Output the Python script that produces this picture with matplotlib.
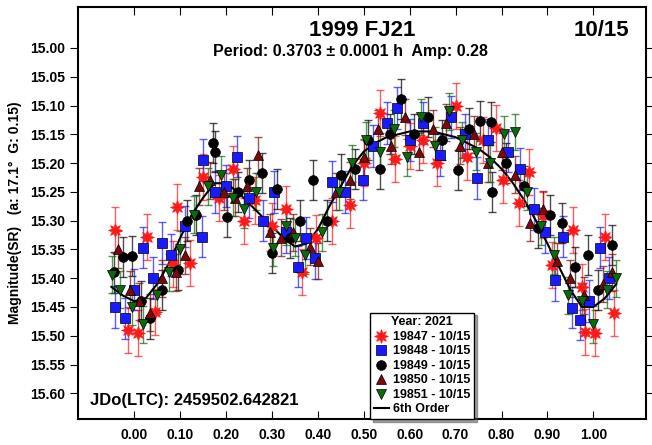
import numpy as np
import matplotlib.pyplot as plt

plt.rcParams['font.family'] = ['Liberation Sans', 'DejaVu Sans']
plt.rcParams['font.weight'] = 'bold'

# lightcurve data
ph_19847 = [-0.041, -0.013, 0.009, 0.028, 0.046, 0.085, 0.094, 0.122, 0.150, 0.185,
            0.215, 0.240, 0.262, 0.300, 0.330, 0.366, 0.395, 0.430, 0.470, 0.500,
            0.536, 0.569, 0.600, 0.630, 0.660, 0.700, 0.725, 0.760, 0.787, 0.804,
            0.837, 0.860, 0.890, 0.910, 0.956, 0.976, 0.982, 1.004, 1.026, 1.044]
mag_19847 = [15.316, 15.490, 15.495, 15.328, 15.458, 15.375, 15.276, 15.373, 15.225, 15.260,
             15.210, 15.300, 15.265, 15.310, 15.280, 15.389, 15.330, 15.300, 15.273, 15.200,
             15.113, 15.193, 15.170, 15.160, 15.200, 15.100, 15.190, 15.160, 15.139, 15.229,
             15.269, 15.215, 15.290, 15.377, 15.316, 15.415, 15.493, 15.495, 15.328, 15.460]

ph_19848 = [-0.041, -0.020, 0.000, 0.020, 0.040, 0.061, 0.080, 0.110, 0.148, 0.150,
            0.175, 0.200, 0.224, 0.250, 0.280, 0.305, 0.330, 0.357, 0.375, 0.394,
            0.431, 0.460, 0.499, 0.520, 0.550, 0.573, 0.600, 0.630, 0.667, 0.690,
            0.720, 0.747, 0.770, 0.815, 0.840, 0.870, 0.895, 0.917, 0.934, 0.954,
            0.972, 0.990, 1.015, 1.035]
mag_19848 = [15.450, 15.470, 15.420, 15.347, 15.400, 15.339, 15.360, 15.310, 15.328, 15.195,
             15.250, 15.240, 15.189, 15.260, 15.300, 15.250, 15.320, 15.380, 15.330, 15.365,
             15.232, 15.250, 15.229, 15.170, 15.130, 15.104, 15.160, 15.130, 15.186, 15.120,
             15.150, 15.226, 15.160, 15.180, 15.210, 15.280, 15.320, 15.403, 15.328, 15.451,
             15.472, 15.440, 15.347, 15.400]

ph_19849 = [-0.045, -0.024, -0.004, 0.015, 0.035, 0.060, 0.096, 0.115, 0.135, 0.172,
            0.175, 0.203, 0.225, 0.250, 0.279, 0.300, 0.312, 0.340, 0.360, 0.390,
            0.420, 0.450, 0.480, 0.510, 0.536, 0.558, 0.580, 0.610, 0.640, 0.670,
            0.706, 0.730, 0.754, 0.776, 0.780, 0.810, 0.850, 0.880, 0.905, 0.932,
            0.960, 0.989, 1.010, 1.041]
mag_19849 = [15.390, 15.363, 15.361, 15.440, 15.470, 15.420, 15.385, 15.300, 15.290, 15.165,
             15.180, 15.293, 15.250, 15.230, 15.217, 15.356, 15.245, 15.330, 15.300, 15.229,
             15.300, 15.220, 15.210, 15.160, 15.210, 15.150, 15.089, 15.150, 15.120, 15.160,
             15.212, 15.140, 15.127, 15.128, 15.250, 15.200, 15.240, 15.313, 15.290, 15.304,
             15.380, 15.360, 15.420, 15.342]

ph_19850 = [-0.035, -0.010, 0.010, 0.035, 0.060, 0.090, 0.110, 0.140, 0.165, 0.195,
            0.220, 0.245, 0.270, 0.295, 0.320, 0.345, 0.383, 0.400, 0.440, 0.470,
            0.500, 0.530, 0.560, 0.590, 0.620, 0.650, 0.680, 0.710, 0.740, 0.770,
            0.800, 0.830, 0.863, 0.890, 0.920, 0.950, 0.980, 1.020, 1.040]
mag_19850 = [15.350, 15.420, 15.440, 15.460, 15.400, 15.390, 15.360, 15.240, 15.230, 15.250,
             15.260, 15.240, 15.186, 15.320, 15.330, 15.320, 15.345, 15.370, 15.250, 15.230,
             15.190, 15.140, 15.170, 15.120, 15.180, 15.140, 15.130, 15.170, 15.150, 15.200,
             15.180, 15.220, 15.304, 15.280, 15.370, 15.400, 15.430, 15.410, 15.390]

ph_19851 = [-0.048, -0.030, -0.005, 0.020, 0.050, 0.075, 0.100, 0.130, 0.160, 0.190,
            0.215, 0.240, 0.265, 0.303, 0.330, 0.350, 0.372, 0.410, 0.445, 0.475,
            0.505, 0.535, 0.565, 0.595, 0.625, 0.655, 0.685, 0.715, 0.745, 0.775,
            0.805, 0.830, 0.855, 0.885, 0.915, 0.945, 0.975, 1.000, 1.030, 1.050]
mag_19851 = [15.394, 15.420, 15.450, 15.480, 15.430, 15.390, 15.350, 15.290, 15.240, 15.220,
             15.260, 15.280, 15.250, 15.347, 15.310, 15.330, 15.360, 15.320, 15.250, 15.200,
             15.160, 15.180, 15.140, 15.190, 15.120, 15.170, 15.110, 15.160, 15.180, 15.200,
             15.150, 15.146, 15.250, 15.310, 15.360, 15.430, 15.440, 15.480, 15.420, 15.400]

err = [0.040, 0.036, 0.035, 0.032, 0.032]

# 6th order fit
fit_ph = [-0.05, -0.025, 0.0, 0.025, 0.05, 0.075, 0.1, 0.125, 0.15, 0.175, 0.2, 0.225,
          0.25, 0.275, 0.3, 0.325, 0.35, 0.375, 0.4, 0.425, 0.45, 0.475, 0.5, 0.525,
          0.55, 0.575, 0.6, 0.625, 0.65, 0.675, 0.7, 0.725, 0.75, 0.775, 0.8, 0.825,
          0.85, 0.875, 0.9, 0.925, 0.95, 0.975, 1.0, 1.025, 1.05]
fit_mag = [15.415, 15.43, 15.44, 15.435, 15.41, 15.375, 15.33, 15.29, 15.26, 15.235, 15.235, 15.25,
           15.27, 15.29, 15.31, 15.33, 15.345, 15.34, 15.315, 15.275, 15.24, 15.205, 15.18, 15.165,
           15.155, 15.15, 15.145, 15.145, 15.145, 15.15, 15.155, 15.165, 15.175, 15.19, 15.21, 15.235,
           15.265, 15.30, 15.34, 15.38, 15.42, 15.45, 15.45, 15.435, 15.41]

labels = ['19847 - 10/15', '19848 - 10/15', '19849 - 10/15', '19850 - 10/15', '19851 - 10/15']
colors = ['#ff1a1a', '#1a1aff', '#000000', '#7a0a0a', '#0b6b0b']
markers = [(8, 1, 0), 's', 'o', '^', 'v']
msizes = [10, 7, 7, 7, 7]
series = [(ph_19847, mag_19847), (ph_19848, mag_19848), (ph_19849, mag_19849),
          (ph_19850, mag_19850), (ph_19851, mag_19851)]

fig = plt.figure(figsize=(6.52, 4.45), dpi=100)
ax = fig.add_axes([0.120, 0.058, 0.871, 0.926])

handles = []
for i in range(5):
    x, y = series[i]
    ax.errorbar(x, y, yerr=err[i], fmt='none', ecolor=colors[i], elinewidth=1,
                capsize=3, capthick=1, alpha=0.7, zorder=2)
    h, = ax.plot(x, y, linestyle='none', marker=markers[i], ms=msizes[i],
                 mfc=colors[i], mec='#000000' if i in (1, 3, 4) else colors[i],
                 mew=0.5, zorder=3, label=labels[i])
    handles.append(h)

fl, = ax.plot(fit_ph, fit_mag, color='black', lw=1.5, zorder=2.5, label='6th Order')
handles.append(fl)

ax.set_xlim(-0.122, 1.115)
ax.set_ylim(15.645, 14.929)
ax.set_xticks(np.arange(0, 1.01, 0.1))
ax.set_xticklabels(['%.2f' % v for v in np.arange(0, 1.01, 0.1)])
ax.set_yticks(np.arange(15.0, 15.601, 0.05))
ax.set_yticklabels(['%.2f' % v for v in np.arange(15.0, 15.601, 0.05)])
ax.tick_params(axis='x', which='both', direction='in', top=True, length=6, labelsize=10, pad=6)
ax.tick_params(axis='y', which='both', direction='out', length=6, labelsize=10)
ax.tick_params(axis='y', right=True)
for s in ax.spines.values():
    s.set_linewidth(1.5)
ax.set_ylabel('Magnitude(SR)   (a: 17.1°  G: 0.15)', fontsize=10, fontweight='bold', labelpad=6)

ax.text(0.50, 0.944, '1999 FJ21', transform=ax.transAxes, ha='center', va='center',
        fontsize=16, fontweight='bold')
ax.text(0.97, 0.944, '10/15', transform=ax.transAxes, ha='right', va='center',
        fontsize=16, fontweight='bold')
ax.text(0.48, 0.893, 'Period: 0.3703 ± 0.0001 h  Amp: 0.28', transform=ax.transAxes,
        ha='center', va='center', fontsize=11.5, fontweight='bold')
ax.text(0.02, 0.045, 'JDo(LTC): 2459502.642821', transform=ax.transAxes, ha='left',
        va='center', fontsize=12, fontweight='bold')

leg = ax.legend(handles=handles, title='Year: 2021', loc='lower left',
                bbox_to_anchor=(0.514, 0.0), fontsize=9, title_fontsize=9,
                frameon=True, fancybox=False, shadow=True, handlelength=1.2,
                handletextpad=0.3, borderpad=0.3, labelspacing=0.2, borderaxespad=0)
leg.get_frame().set_edgecolor('black')
leg.get_frame().set_linewidth(1)
for t in leg.get_texts():
    t.set_fontweight('bold')
leg.get_title().set_fontweight('bold')
leg.set_zorder(10)

plt.savefig('out.png', dpi=100)
